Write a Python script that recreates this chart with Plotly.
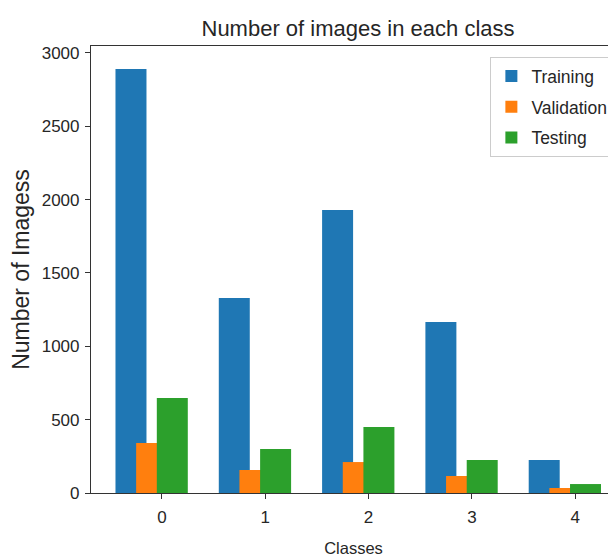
import plotly.graph_objects as go

classes = [0, 1, 2, 3, 4]
training = [2890, 1329, 1929, 1166, 225]
validation = [341, 157, 211, 116, 34]
testing = [647, 300, 450, 225, 61]
y_ticks = [0, 500, 1000, 1500, 2000, 2500, 3000]

FONT = "Liberation Sans, Arial, sans-serif"
TXT = "#262626"

fig = go.Figure()
for name, vals, color, off in [
    ("Training", training, "#1f77b4", -0.45),
    ("Validation", validation, "#ff7f0e", -0.25),
    ("Testing", testing, "#2ca02c", -0.05),
]:
    fig.add_trace(go.Bar(x=classes, y=vals, name=name, marker_color=color,
                         marker_line_width=0, width=0.3, offset=off,
                         legendgroup=name))

# page body has an 8px default margin, so the figure is 8px smaller
fig.update_layout(
    width=608, height=549,
    barmode="overlay",
    plot_bgcolor="white", paper_bgcolor="white",
    margin=dict(l=83, r=0, t=38, b=64, autoexpand=False),
    title=dict(text="Number of images in each class", x=0.5757, xanchor="center",
               y=0.9636, yanchor="middle",
               font=dict(family=FONT, size=22, color=TXT)),
    legend=dict(x=0.995, xanchor="right", y=0.975, yanchor="top",
                bordercolor="#cccccc", borderwidth=1, bgcolor="white",
                tracegroupgap=5,
                font=dict(family=FONT, size=17.5, color=TXT)),
    xaxis=dict(range=[-0.687, 4.395], tickvals=classes, showline=True, mirror=True,
               linecolor="#333", linewidth=1.2, ticks="outside", ticklen=5,
               tickcolor="#333", showgrid=False, zeroline=False, automargin=False,
               ticklabelstandoff=3,
               tickfont=dict(family=FONT, size=17, color=TXT),
               title=dict(text="Classes", standoff=18,
                          font=dict(family=FONT, size=16.5, color=TXT))),
    yaxis=dict(range=[0, 3047], tickvals=y_ticks, showline=True, mirror=False,
               linecolor="#333", linewidth=1.2, ticks="outside", ticklen=5,
               tickcolor="#333", showgrid=False, zeroline=False, automargin=False,
               ticklabelstandoff=2,
               tickfont=dict(family=FONT, size=17, color=TXT),
               title=dict(text="Number of Imagess", standoff=13,
                          font=dict(family=FONT, size=23, color=TXT))),
)

fig.write_html("out.html")
